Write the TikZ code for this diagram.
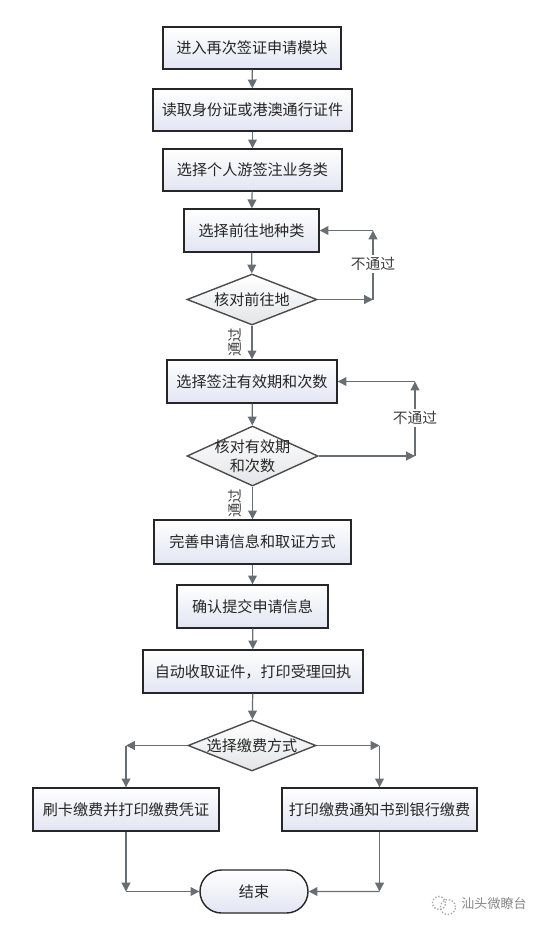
\documentclass[tikz,border=0pt]{standalone}
\usepackage{fontspec}
\setmainfont{Noto Sans CJK SC}
\definecolor{linegray}{RGB}{105,110,115}
\definecolor{softlav}{RGB}{226,229,242}
\definecolor{softgray}{RGB}{228,229,232}
\definecolor{markgray}{RGB}{135,135,135}
\usetikzlibrary{arrows.meta,shapes.geometric,shapes.misc}

\begin{document}
\begin{tikzpicture}[
      arr/.style={-{Triangle[length=5pt,width=5pt]}, line width=0.7pt, linegray},
      card/.style={draw=black!85, thick, top color=white, bottom color=softlav,
                   align=center, inner sep=0pt, text=black!85,
                   font=\fontsize{8.6pt}{11pt}\selectfont},
      check/.style={draw=black!70, thick, diamond, aspect=2.55, inner sep=0pt,
                    top color=white, bottom color=softgray, align=center, text=black!85,
                    font=\fontsize{8.6pt}{11pt}\selectfont},
      note/.style={fill=white, inner sep=1.2pt, text=black!75,
                   font=\fontsize{8.4pt}{10pt}\selectfont},
      pass/.style={rotate=90, inner sep=0pt, text=black!75,
                   font=\fontsize{8.2pt}{9pt}\selectfont}
    ]
    \useasboundingbox (0,0) rectangle (10.88,-18.58);

    \node[card, minimum width=3.56cm, minimum height=0.84cm] (s1) at (5.04,-0.96) {进入再次签证申请模块};
    \node[card, minimum width=3.98cm, minimum height=0.84cm] (s2) at (5.05,-2.20) {读取身份证或港澳通行证件};
    \node[card, minimum width=3.58cm, minimum height=0.84cm] (s3) at (5.05,-3.40) {选择个人游签注业务类};
    \node[card, minimum width=2.70cm, minimum height=0.86cm] (s4) at (5.03,-4.61) {选择前往地种类};
    \node[check, minimum width=2.60cm, minimum height=1.02cm] (d1) at (5.04,-5.99) {核对前往地};
    \node[card, minimum width=3.40cm, minimum height=0.86cm] (s5) at (5.04,-7.63) {选择签注有效期和次数};
    \node[check, aspect=2.18, inner sep=-3pt, minimum width=2.62cm, minimum height=1.20cm] (d2) at (5.05,-9.12) {核对有效期\\和次数};
    \node[card, minimum width=3.94cm, minimum height=0.88cm] (s6) at (5.05,-10.84) {完善申请信息和取证方式};
    \node[card, minimum width=3.02cm, minimum height=0.86cm] (s7) at (5.05,-12.13) {确认提交申请信息};
    \node[card, minimum width=4.40cm, minimum height=0.86cm] (s8) at (5.06,-13.43) {自动收取证件，打印受理回执};
    \node[check, minimum width=2.56cm, minimum height=1.02cm] (d3) at (5.04,-14.91) {选择缴费方式};
    \node[card, minimum width=3.72cm, minimum height=0.86cm] (p1) at (2.52,-16.19) {刷卡缴费并打印缴费凭证};
    \node[card, minimum width=3.90cm, minimum height=0.86cm] (p2) at (7.59,-16.19) {打印缴费通知书到银行缴费};
    \node[card, rounded rectangle, minimum width=2.16cm, minimum height=0.86cm] (done) at (5.08,-17.83) {结束};

    \coordinate (e1) at (7.46,-5.99);
    \coordinate (u1) at (7.46,-4.61);
    \coordinate (e2) at (8.30,-9.12);
    \coordinate (u2) at (8.30,-7.63);
    \coordinate (l3) at (2.52,-14.91);
    \coordinate (r3) at (7.59,-14.91);
    \coordinate (l4) at (2.52,-17.83);
    \coordinate (r4) at (7.59,-17.83);

    \draw[arr] (s1)--(s2);
    \draw[arr] (s2)--(s3);
    \draw[arr] (s3)--(s4);
    \draw[arr] (s4)--(d1);
    \draw[arr] (d1)--(s5);
    \draw[arr] (s5)--(d2);
    \draw[arr] (d2)--(s6);
    \draw[arr] (s6)--(s7);
    \draw[arr] (s7)--(s8);
    \draw[arr] (s8)--(d3);

    \draw[arr] (d1)--(e1);
    \draw[arr] (e1)--(u1);
    \draw[arr] (u1)--(s4);
    \draw[arr] (d2)--(e2);
    \draw[arr] (e2)--(u2);
    \draw[arr] (u2)--(s5);

    \draw[arr] (d3)--(l3);
    \draw[arr] (l3)--(p1);
    \draw[arr] (d3)--(r3);
    \draw[arr] (r3)--(p2);
    \draw[arr] (p1)--(l4);
    \draw[arr] (l4)--(done);
    \draw[arr] (p2)--(r4);
    \draw[arr] (r4)--(done);

    \node[note] (n1) at (7.46,-5.28) {不通过};
    \node[note] (n2) at (8.30,-8.36) {不通过};
    \node[pass] (t1) at (4.70,-6.85) {通过};
    \node[pass] (t2) at (4.70,-10.06) {通过};

    % mark in the corner
    \node[inner sep=0pt, text=markgray, font=\fontsize{7.4pt}{9pt}\selectfont] (wm) at (9.88,-18.08) {汕头微瞭台};
    \draw[markgray!70, densely dotted, thick] (8.78,-18.06) circle (0.13);
    \draw[markgray!70, densely dotted, thick] (8.96,-18.14) circle (0.15);
  \end{tikzpicture}
\end{document}
